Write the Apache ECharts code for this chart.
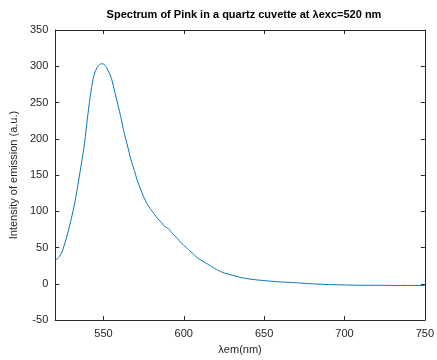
<!DOCTYPE html>
<html>
<head>
<meta charset="utf-8">
<script src="https://cdn.jsdelivr.net/npm/echarts@6/dist/echarts.min.js"></script>
<style>html,body{margin:0;padding:0;background:#fff}#c{width:437px;height:360px}</style>
</head>
<body>
<div id="c"></div>
<script>
const wavelengths = [520,521,522,524,526,528,530,532,534,536,538,540,542,544,546,547,548,549,550,551,552,553,555,557,559,561,563,565,567,569,571,573,575,577,579,581,583,585,587,588,589,591,593,595,597,600,603,606,609,612,615,618,621,625,630,635,640,645,650,655,660,670,680,690,700,710,720,730,740,750];
const intensity = [33,34,36,43,56,72,90,110,135,162,190,228,262,287,298,301,303,303.5,303,301,298,294,283,265,247,228,207,190,172,158,143,131,120,111,104,98,92,87,82,79,78,75,69,65,60,53,47,41,35,31,27,23,19,15,12,9,7,5.5,4.5,3.5,2.7,1.5,0,-1,-1.5,-2,-2,-2.2,-2.3,-2.3];
const xTicks = [550,600,650,700,750];
const yTicks = [-50,0,50,100,150,200,250,300,350];

const pts = wavelengths.map((w,i)=>[w,intensity[i]]);
const axisCol = '#262626';
const chart = echarts.init(document.getElementById('c'));
chart.setOption({
  animation:false,
  title:{text:'Spectrum of Pink in a quartz cuvette at λexc=520 nm',left:239,top:4,textAlign:'center',
    textStyle:{fontFamily:'Liberation Sans',fontSize:11,fontWeight:'bold',color:'#000'}},
  grid:{left:51,right:9.5,top:30,bottom:36},
  xAxis:[{type:'value',min:520,max:750,position:'bottom',
    name:'λem(nm)',nameLocation:'middle',nameGap:23,
    nameTextStyle:{fontFamily:'Liberation Sans',fontSize:11,color:axisCol},
    axisLine:{show:true,onZero:false,lineStyle:{color:axisCol,width:1}},
    axisTick:{show:true,inside:true,length:4,customValues:xTicks,lineStyle:{color:axisCol}},
    axisLabel:{customValues:xTicks,fontFamily:'Liberation Sans',fontSize:11,color:axisCol,margin:8},
    splitLine:{show:false}},
   {type:'value',min:520,max:750,position:'top',
    axisLine:{show:true,onZero:false,lineStyle:{color:axisCol,width:1}},
    axisTick:{show:true,inside:true,length:4,customValues:xTicks,lineStyle:{color:axisCol}},
    axisLabel:{show:false},splitLine:{show:false}}],
  yAxis:[{type:'value',min:-50,max:350,interval:50,position:'left',
    name:'Intensity of emission (a.u.)',nameLocation:'middle',nameGap:32,nameRotate:90,
    nameTextStyle:{fontFamily:'Liberation Sans',fontSize:11,color:axisCol},
    axisLine:{show:true,onZero:false,lineStyle:{color:axisCol,width:1}},
    axisTick:{show:true,inside:true,length:4,lineStyle:{color:axisCol}},
    axisLabel:{fontFamily:'Liberation Sans',fontSize:11,color:axisCol,margin:7},
    splitLine:{show:false}},
   {type:'value',min:-50,max:350,interval:50,position:'right',
    axisLine:{show:true,onZero:false,lineStyle:{color:axisCol,width:1}},
    axisTick:{show:true,inside:true,length:4,lineStyle:{color:axisCol}},
    axisLabel:{show:false},splitLine:{show:false}}],
  series:[{type:'line',data:pts,showSymbol:false,smooth:0.2,
    lineStyle:{color:'#0072BD',width:1},xAxisIndex:0,yAxisIndex:0}]
});
</script>
</body>
</html>
